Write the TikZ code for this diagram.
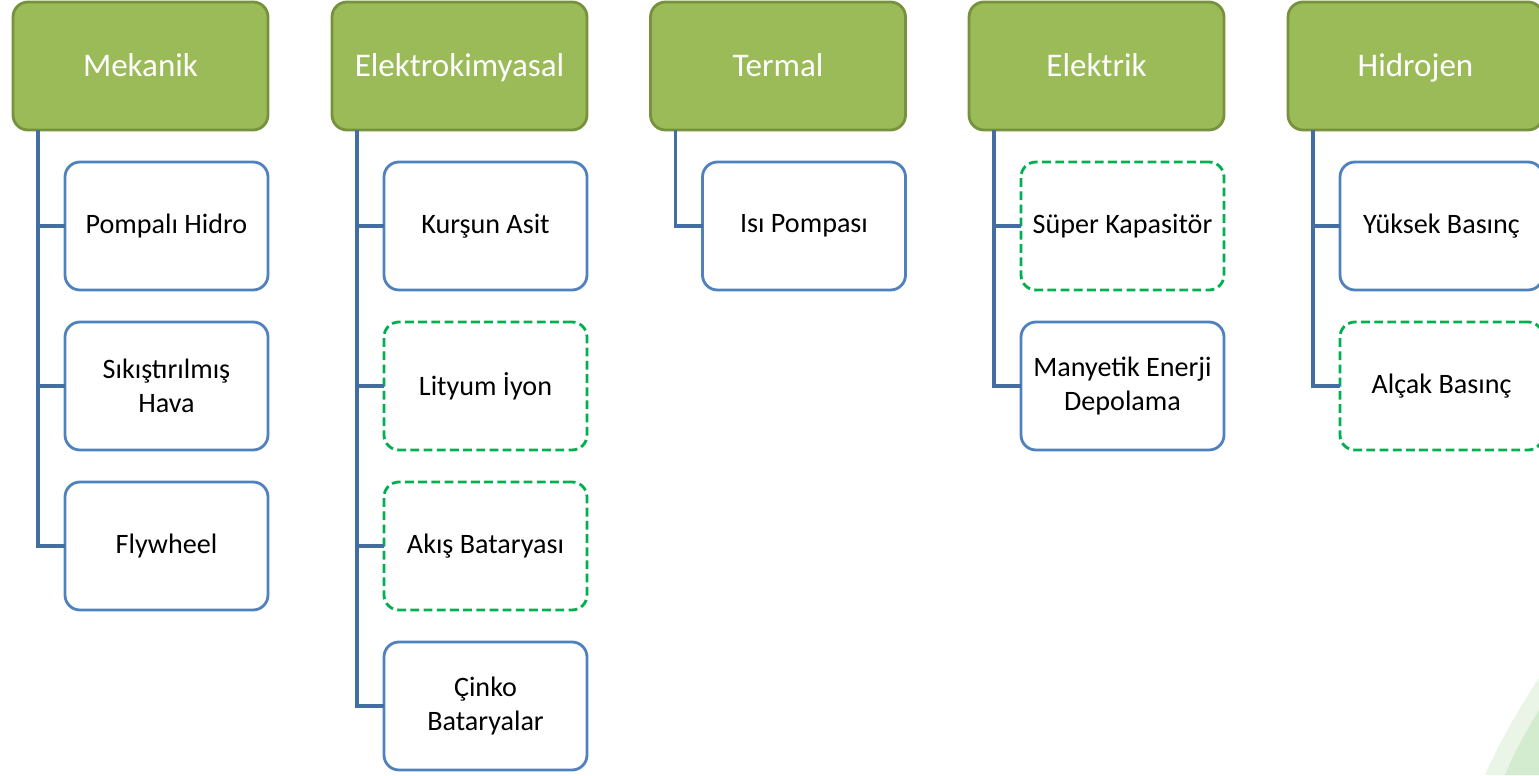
\documentclass[tikz,border=0pt]{standalone}
\usepackage{fontspec}
\setmainfont{Carlito}
\usetikzlibrary{positioning}

\definecolor{headgreen}{HTML}{9BBB59}
\definecolor{headborder}{HTML}{76923C}
\definecolor{itemblue}{HTML}{4F81BD}
\definecolor{newgreen}{HTML}{00B050}
\definecolor{swoosha}{HTML}{EAF5E7}
\definecolor{swooshb}{HTML}{D3EBCF}

\begin{document}
\begin{tikzpicture}[node distance=0.64cm, outer sep=0pt,
        head/.style={rectangle, draw=headborder, fill=headgreen, line width=1.6pt, rounded corners=0.3cm, minimum width=5.1cm, minimum height=2.56cm, text=white, text height=13pt, text depth=1.6pt, font=\fontsize{18.8}{22}\selectfont},
        item/.style={rectangle, draw=itemblue, fill=white, line width=1.6pt, rounded corners=0.3cm, minimum width=4.06cm, minimum height=2.56cm, text width=3.68cm, align=flush center, font=\fontsize{16}{19.5}\selectfont},
        newitem/.style={item, draw=newgreen, dashed, dash pattern=on 5pt off 2.5pt},
        link/.style={draw=itemblue!85!black, line width=1.8pt}]

        \useasboundingbox (0,0) rectangle (30.78,-15.5);

        % background swoosh
        \fill[swoosha] (29.7,-15.5) .. controls (30.1,-14.6) and (30.5,-14.0) .. (30.78,-13.55) -- (30.78,-15.5) -- cycle;
        \fill[swooshb] (30.1,-15.5) .. controls (30.35,-14.9) and (30.6,-14.5) .. (30.78,-14.2) -- (30.78,-15.5) -- cycle;

        % Headers
        \node[head] (mek) at (2.81,-1.32) {Mekanik};
        \node[head] (ekim) at (9.19,-1.32) {Elektrokimyasal};
        \node[head] (ter) at (15.56,-1.32) {Termal};
        \node[head] (elk) at (21.93,-1.32) {Elektrik};
        \node[head] (hid) at (28.31,-1.32) {Hidrojen};

        % Mekanik
        \node[item, below=of mek.south east, anchor=north east] (pomp) {Pompalı Hidro};
        \node[item, below=of pomp] (sik) {Sıkıştırılmış\\Hava};
        \node[item, below=of sik] (fly) {Flywheel};

        % Elektrokimyasal
        \node[item, below=of ekim.south east, anchor=north east] (kur) {Kurşun Asit};
        \node[newitem, below=of kur] (lit) {Lityum İyon};
        \node[newitem, below=of lit] (aki) {Akış Bataryası};
        \node[item, below=of aki] (cin) {Çinko\\Bataryalar};

        % Termal
        \node[item, below=of ter.south east, anchor=north east] (isi) {Isı Pompası};

        % Elektrik
        \node[newitem, below=of elk.south east, anchor=north east] (sup) {Süper Kapasitör};
        \node[item, below=of sup] (man) {Manyetik Enerji\\Depolama};

        % Hidrojen
        \node[item, below=of hid.south east, anchor=north east] (yuk) {Yüksek Basınç};
        \node[newitem, below=of yuk] (alc) {Alçak Basınç};

        % Trunks
        \coordinate (mekt) at ([xshift=0.5cm]mek.south west);
        \coordinate (ekimt) at ([xshift=0.5cm]ekim.south west);
        \coordinate (tert) at ([xshift=0.5cm]ter.south west);
        \coordinate (elkt) at ([xshift=0.5cm]elk.south west);
        \coordinate (hidt) at ([xshift=0.5cm]hid.south west);

        \draw[link] (mekt) |- (pomp.west) (mekt) |- (sik.west) (mekt) |- (fly.west);
        \draw[link] (ekimt) |- (kur.west) (ekimt) |- (lit.west) (ekimt) |- (aki.west) (ekimt) |- (cin.west);
        \draw[link] (tert) |- (isi.west);
        \draw[link] (elkt) |- (sup.west) (elkt) |- (man.west);
        \draw[link] (hidt) |- (yuk.west) (hidt) |- (alc.west);

    \end{tikzpicture}
\end{document}
